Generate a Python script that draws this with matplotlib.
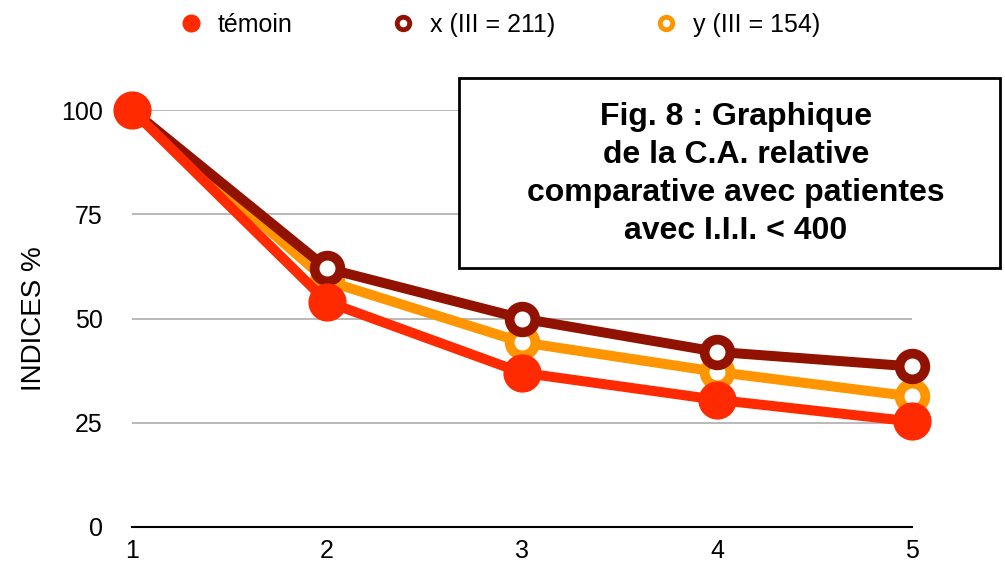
import matplotlib
matplotlib.use("Agg")
import matplotlib.pyplot as plt
from matplotlib.lines import Line2D
from matplotlib.patches import Rectangle

plt.rcParams['font.family'] = ['Liberation Sans', 'DejaVu Sans']

x_vals = [1, 2, 3, 4, 5]
temoin = [100, 54, 37, 30.5, 25.3]
serie_x = [100, 62, 50, 42, 38.5]
serie_y = [100, 59, 44.3, 37.2, 31.3]
y_ticks = [0, 25, 50, 75, 100]
legend_labels = ["témoin", "x (III = 211)", "y (III = 154)"]
title_text = "Fig. 8 : Graphique\nde la C.A. relative\ncomparative avec patientes\navec I.I.I. < 400"

c_temoin = "#FF2A00"
c_x = "#921200"
c_y = "#FF9500"

fig = plt.figure(figsize=(10.05, 5.62), dpi=100)
ax = fig.add_axes([132/1005, 1-527/562, (912-132)/1005, (527-110)/562])

ax.plot(x_vals, serie_y, color=c_y, lw=7.2, marker='o', ms=18.5, mfc='white',
        mec=c_y, mew=7, clip_on=False, zorder=3)
ax.plot(x_vals, serie_x, color=c_x, lw=7.2, marker='o', ms=18.5, mfc='white',
        mec=c_x, mew=7, clip_on=False, zorder=4)
ax.plot(x_vals, temoin, color=c_temoin, lw=7.2, marker='o', ms=26.5,
        clip_on=False, zorder=5)

ax.set_xlim(1, 5)
ax.set_ylim(0, 100)
ax.set_xticks(x_vals)
ax.set_yticks(y_ticks)
ax.tick_params(axis='both', length=0, labelsize=18)
ax.tick_params(axis='y', pad=21)
ax.tick_params(axis='x', pad=9)
ax.yaxis.grid(True, color='#b3b3b3', lw=1.3)
ax.set_axisbelow(True)
for s in ['left', 'right', 'top']:
    ax.spines[s].set_visible(False)
ax.spines['bottom'].set_linewidth(1.5)
ax.set_ylabel("INDICES %", fontsize=20, labelpad=10)

handles = [
    Line2D([], [], ls='none', marker='o', ms=12, color=c_temoin),
    Line2D([], [], ls='none', marker='o', ms=9, mfc='white', mec=c_x, mew=3.5),
    Line2D([], [], ls='none', marker='o', ms=9, mfc='white', mec=c_y, mew=3.5),
]
fig.legend(handles, legend_labels, loc='center', bbox_to_anchor=(498/1005, 1-25/562),
           ncol=3, frameon=False, fontsize=18, columnspacing=3.8, handletextpad=0.5,
           handlelength=1.2)

fig.patches.append(Rectangle((459/1005, 1-268/562), (1000-459)/1005, (268-78)/562,
                             transform=fig.transFigure, fc='white', ec='black', lw=2, zorder=10))
fig.text(736/1005, 1-174/562, title_text, ha='center', va='center', fontsize=23,
         fontweight='bold', linespacing=1.34, zorder=11)

fig.savefig("out.png", dpi=100)
